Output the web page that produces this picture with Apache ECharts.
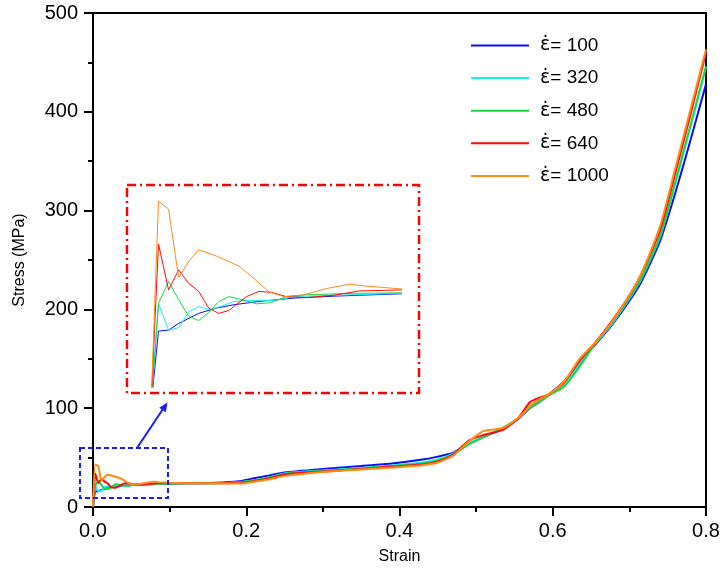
<!DOCTYPE html>
<html>
<head>
<meta charset="utf-8">
<title>Stress-strain</title>
<script src="https://cdn.jsdelivr.net/npm/echarts@6/dist/echarts.min.js"></script>
<style>
  html, body { margin: 0; padding: 0; background: #fff; }
  #chart { width: 723px; height: 575px; }
</style>
</head>
<body>
<div id="chart"></div>
<script>
const rates = ['100', '320', '480', '640', '1000']
const legendNames = rates.map(r => '\u03B5\u0307= ' + r)
const colors = ['#0a0aff', '#14f0ff', '#14d93c', '#ff0a0a', '#ff8a14']

// early part (0 - 0.1), also drawn in the zoomed inset
const early100 = [[0, 0], [0.003, 15.7], [0.007, 15.9], [0.011, 17.3], [0.019, 19.4], [0.026, 20.5], [0.033, 21.2], [0.043, 21.9], [0.057, 22.6], [0.073, 23.0], [0.1, 23.5]]
const early320 = [[0, 0], [0.003, 21.5], [0.007, 15.9], [0.011, 16.4], [0.015, 19.7], [0.019, 20.8], [0.0235, 20.2], [0.0275, 20.8], [0.033, 21.9], [0.041, 22.1], [0.049, 22.1], [0.057, 22.9], [0.073, 23.2], [0.1, 23.6]]
const early480 = [[0, 0], [0.003, 21.5], [0.007, 26.1], [0.011, 22.3], [0.015, 18.8], [0.019, 17.9], [0.023, 19.6], [0.027, 21.9], [0.031, 22.9], [0.036, 22.3], [0.042, 21.4], [0.047, 21.6], [0.054, 22.9], [0.062, 23.3], [0.081, 23.6], [0.1, 23.7]]
const early640 = [[0, 0], [0.003, 33.9], [0.007, 24.3], [0.011, 28.5], [0.015, 25.7], [0.019, 24.0], [0.023, 20.5], [0.027, 19.4], [0.031, 20.0], [0.038, 22.9], [0.043, 24.0], [0.048, 23.8], [0.054, 22.9], [0.062, 22.7], [0.073, 23.2], [0.083, 24.1], [0.1, 24.3]]
const early1000 = [[0, 0], [0.003, 42.9], [0.007, 41.2], [0.011, 26.9], [0.015, 30.2], [0.019, 32.7], [0.026, 31.4], [0.035, 29.3], [0.041, 26.7], [0.047, 23.9], [0.053, 22.9], [0.061, 23.3], [0.07, 24.6], [0.079, 25.5], [0.086, 25.1], [0.1, 24.5]]

// rest of the curves
const lateStrain = [0.12, 0.16, 0.19, 0.21, 0.23, 0.25, 0.3, 0.35, 0.39, 0.43, 0.45, 0.47, 0.49, 0.51, 0.535, 0.555, 0.57, 0.58, 0.595, 0.615, 0.635, 0.655, 0.675, 0.695, 0.715, 0.74, 0.76, 0.78, 0.8]
const late100 = [24, 24.5, 26, 29, 32, 35, 38.5, 41.5, 44, 48, 51, 55, 64, 71, 79, 89, 100, 105, 114, 127, 147, 164, 182, 203, 227, 269, 318, 372, 428]
const late320 = [24, 24, 25, 27, 30, 34, 37, 39.5, 42, 45, 48, 54, 64, 71, 80, 90, 102, 108, 114, 125, 145, 165, 183, 205, 230, 273, 328, 386, 445]
const late480 = [24, 24, 25, 27, 30, 33.5, 36.5, 39, 41.5, 44, 47, 53, 63, 71, 80, 90, 100, 105, 113, 122, 142, 165, 184, 206, 231, 274, 329, 387, 446]
const late640 = [24, 24, 24.5, 26, 29, 33, 36, 38.5, 41, 43, 46, 53, 67, 73, 78, 90, 106, 110, 114, 126, 148, 166, 186, 208, 235, 280, 338, 398, 460]
const late1000 = [24, 24, 23.7, 25.5, 28, 31.5, 35.5, 38, 40, 42.3, 45, 52, 66, 77, 80, 90, 102, 108, 114, 127, 150, 166, 185, 208, 235, 284, 343, 403, 463]

const earlyAll = [early100, early320, early480, early640, early1000]
const lateAll = [late100, late320, late480, late640, late1000]

const font = 'Liberation Sans, Arial, sans-serif'

const chart = echarts.init(document.getElementById('chart'))

let series = []
legendNames.forEach((name, i) => {
  const full = earlyAll[i].concat(lateStrain.map((s, k) => [s, lateAll[i][k]]))
  series.push({
    name: name,
    type: 'line',
    symbol: 'none',
    smooth: 0.2,
    color: colors[i],
    lineStyle: { width: 2 },
    data: full
  })
})
legendNames.forEach((name, i) => {
  series.push({
    name: name,
    type: 'line',
    xAxisIndex: 1,
    yAxisIndex: 1,
    symbol: 'none',
    color: colors[i],
    lineStyle: { width: 1 },
    data: earlyAll[i]
  })
})

const axisText = { color: '#000', fontSize: 20, fontFamily: font }

chart.setOption({
  animation: false,
  backgroundColor: '#fff',
  grid: [
    { left: 93, right: 17, top: 13, bottom: 68, show: true, borderColor: '#000', borderWidth: 2, outerBoundsMode: 'none' },
    { left: 151, top: 191, width: 251, height: 196, outerBoundsMode: 'none' }
  ],
  legend: {
    data: legendNames,
    orient: 'vertical',
    left: 471,
    top: 36,
    padding: 0,
    icon: 'rect',
    itemWidth: 58,
    itemHeight: 2,
    itemGap: 13.6,
    formatter: name => '{e|\u03B5\u0307}{t|' + name.slice(2) + '}',
    textStyle: {
      color: '#000',
      fontSize: 19,
      lineHeight: 18,
      padding: [0, 0, 0, 6],
      rich: {
        e: { fontFamily: 'DejaVu Sans', fontSize: 19, color: '#000', lineHeight: 18 },
        t: { fontFamily: font, fontSize: 19, color: '#000', lineHeight: 18 }
      }
    }
  },
  xAxis: [
    {
      type: 'value',
      min: 0,
      max: 0.8,
      interval: 0.2,
      name: 'Strain',
      nameLocation: 'middle',
      nameGap: 42,
      nameTextStyle: { color: '#000', fontSize: 16, fontFamily: font },
      axisLine: { lineStyle: { color: '#000', width: 2 } },
      axisTick: { length: 9, lineStyle: { color: '#000', width: 2 } },
      minorTick: { show: true, splitNumber: 2, length: 5, lineStyle: { color: '#000', width: 2 } },
      splitLine: { show: false },
      axisLabel: Object.assign({ margin: 14, formatter: v => v.toFixed(1) }, axisText)
    },
    { type: 'value', gridIndex: 1, min: 0, max: 0.1, show: false }
  ],
  yAxis: [
    {
      type: 'value',
      min: 0,
      max: 500,
      interval: 100,
      name: 'Stress (MPa)',
      nameLocation: 'middle',
      nameGap: 65,
      nameTextStyle: { color: '#000', fontSize: 16, fontFamily: font },
      axisLine: { show: true, lineStyle: { color: '#000', width: 2 } },
      axisTick: { show: true, length: 9, lineStyle: { color: '#000', width: 2 } },
      minorTick: { show: true, splitNumber: 2, length: 5, lineStyle: { color: '#000', width: 2 } },
      splitLine: { show: false },
      axisLabel: Object.assign({ margin: 15 }, axisText)
    },
    { type: 'value', gridIndex: 1, min: 4, max: 45, show: false }
  ],
  graphic: [
    {
      type: 'rect',
      shape: { x: 127, y: 185, width: 292, height: 208 },
      style: { fill: 'none', stroke: '#ff0000', lineWidth: 2.5, lineDash: [9, 4, 2, 4] },
      z: 100
    },
    {
      type: 'rect',
      shape: { x: 80, y: 448, width: 88, height: 50 },
      style: { fill: 'none', stroke: '#1a1aff', lineWidth: 2, lineDash: [5, 3] },
      z: 100
    },
    {
      type: 'line',
      shape: { x1: 137, y1: 448, x2: 163, y2: 409 },
      style: { stroke: '#1a1aff', lineWidth: 2 },
      z: 100
    },
    {
      type: 'polygon',
      shape: { points: [[167.5, 402.5], [165.8, 412.2], [159.2, 407.8]] },
      style: { fill: '#1a1aff' },
      z: 100
    }
  ],
  series: series
})
</script>
</body>
</html>
